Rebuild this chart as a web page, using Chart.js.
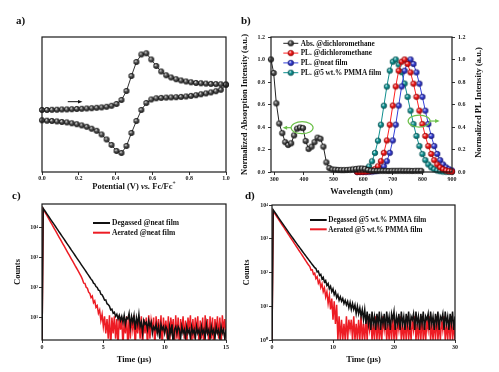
<!DOCTYPE html>
<html><head><meta charset="utf-8">
<script src="https://cdn.jsdelivr.net/npm/chart.js@4.4.1/dist/chart.umd.min.js"></script>
<style>
body{margin:0;background:#fff;}
#wrap{position:relative;width:499px;height:372px;overflow:hidden;background:#fff;}
canvas{position:absolute;}
.pl{position:absolute;font-family:'Liberation Serif',serif;font-weight:bold;font-size:11px;color:#111;line-height:1;}
</style></head><body>
<div id="wrap">
<canvas id="cA" width="240" height="180" style="left:0;top:20px"></canvas>
<canvas id="cB" width="263" height="180" style="left:236px;top:20px"></canvas>
<canvas id="cC" width="240" height="177" style="left:0;top:195px"></canvas>
<canvas id="cD" width="263" height="177" style="left:236px;top:195px"></canvas>
<div class="pl" style="left:16px;top:15px">a)</div>
<div class="pl" style="left:241px;top:15px">b)</div>
<div class="pl" style="left:12px;top:190px">c)</div>
<div class="pl" style="left:245px;top:190px">d)</div>
</div>
<script>
// ---------- Panel a: cyclic voltammogram ----------
const potential = [0.000,0.027,0.054,0.081,0.108,0.135,0.162,0.189,0.216,0.243,0.270,0.297,0.324,0.351,0.378,0.405,0.432,0.459,0.486,0.513,0.540,0.567,0.594,0.621,0.648,0.675,0.702,0.729,0.756,0.783,0.810,0.837,0.864,0.891,0.918,0.945,0.972,1.000];
const forwardCurrent = [6.20,6.20,6.22,6.23,6.25,6.26,6.28,6.30,6.32,6.35,6.38,6.42,6.46,6.52,6.62,6.80,7.20,8.10,9.60,11.00,11.75,11.87,11.25,10.60,10.05,9.67,9.45,9.28,9.15,9.05,8.97,8.90,8.87,8.84,8.81,8.79,8.77,8.75];
const reverseCurrent = [5.17,5.13,5.10,5.06,5.00,4.96,4.87,4.78,4.66,4.52,4.33,4.12,3.75,3.25,2.70,2.10,1.90,2.60,3.90,5.10,6.20,6.90,7.25,7.37,7.41,7.44,7.46,7.48,7.51,7.55,7.61,7.68,7.77,7.86,7.96,8.08,8.22,8.72];
const scanArrow = {from:0.14, to:0.22, level:7.03};

// ---------- Panel b: absorption / PL ----------
const absWavelength = [289,298,307,317,327,337,347,357,367,377,387,397,406,416,426,436,446,456,466,476,486,496,506,516,526,536,546,556,566,576,586,596,606,616,626,636,646,656,666,676,686,696,706,716,726,736,746,756,766,776,786,796];
const absorbance = [1.00,0.88,0.61,0.43,0.345,0.265,0.24,0.255,0.325,0.385,0.395,0.39,0.275,0.205,0.225,0.265,0.305,0.295,0.225,0.085,0.035,0.022,0.02,0.018,0.017,0.017,0.018,0.02,0.023,0.027,0.03,0.031,0.028,0.018,0.012,0.01,0.01,0.011,0.01,0.01,0.009,0.01,0.01,0.01,0.011,0.01,0.01,0.01,0.009,0.01,0.01,0.01];
const plWavelength = [580,590,600,610,620,630,640,650,660,670,680,690,700,710,720,730,740,750,760,770,780,790,800,810,820,830,840,850,860,870,880,890,900];
const plDichloromethane = [0.0,0.001,0.002,0.004,0.007,0.013,0.025,0.05,0.096,0.17,0.28,0.42,0.59,0.76,0.9,0.98,1.0,0.96,0.885,0.785,0.668,0.545,0.426,0.32,0.23,0.16,0.105,0.067,0.041,0.024,0.013,0.007,0.004];
const plNeatFilm = [0,0,0,0.001,0.002,0.004,0.007,0.013,0.025,0.05,0.096,0.17,0.28,0.42,0.59,0.76,0.9,0.98,1.0,0.96,0.885,0.785,0.668,0.545,0.426,0.32,0.23,0.16,0.105,0.067,0.041,0.024,0.013];
const plPmmaFilm = [0.003,0.006,0.011,0.023,0.049,0.095,0.169,0.278,0.42,0.589,0.759,0.901,0.98,1.0,0.955,0.887,0.786,0.668,0.545,0.426,0.32,0.23,0.159,0.105,0.067,0.041,0.024,0.013,0.007,0.004,0.002,0.001,0.0];
const wavelengthTicks = [300,400,500,600,700,800,900];
const legendB = ['Abs. @dichloromethane','PL. @dichloromethane','PL. @neat film','PL. @5 wt.% PMMA film'];
const absMark = {x:394, y:0.394};
const plMark = {x:789, y:0.453};

// ---------- Panel c: decay, neat film ----------
const timeStepC = 0.1;
const degassedC = [1,43000,37000,32500,28200,24500,21400,18600,16200,14100,
12300,10700,9300,8100,7000,6150,5350,4650,4050,3520,
3070,2670,2330,2030,1760,1540,1340,1160,1010,880,
770,670,580,505,440,385,335,290,255,220,
190,172,140,131,108,100,82,79,60,57,
48,38,39,29,27,24,18,19,14,15,
11,13,9,12,8,11,7,12,6,10,
9,14,5,11,7,12,4,10,6,13,
5,7,3,8,6,7,4,8,5,7,
3,5,4,6,3,5,2,6,4,5,
3,5,4,1,5,3,6,1,4,5,
3,5,4,2,5,3,4,2,5,3,
4,2,5,3,4,2,5,3,4,2,
5,3,4,2,6,3,4,2,5,3,
4,2,5,3,4,2,5,3,4,2,
4];
const aeratedC = [1,41000,34800,29500,25000,21100,17900,15100,12800,10800,
9150,7750,6550,5550,4700,3980,3370,2850,2410,2040,
1720,1460,1235,1045,885,750,635,535,455,385,
325,275,230,185,140,138,102,95,70,64,
46,52,31,36,22,25,14,18,8,13,
5,11,3,9,2,12,1,10,3,11,
2,9,1,12,4,10,1,8,3,11,
1,10,2,9,4,12,1,8,3,10,
2,11,1,9,3,10,1,12,2,8,
4,10,1,11,3,9,2,12,1,10,
3,8,2,11,1,10,4,9,1,12,
2,10,1,9,3,11,2,8,1,10,
4,12,1,9,2,10,3,11,1,8,
2,10,1,12,3,9,1,11,2,10,
1,9,3,11,2,10,1,12,4,9,
2];
const countTicksC = [10,100,1000,10000];
const countLabelsC = ['10¹','10²','10³','10⁴'];
const legendC = ['Degassed @neat film','Aerated @neat film'];

// ---------- Panel d: decay, 5 wt.% PMMA film ----------
const timeStepD = 0.2;
const degassedD = [1,7180,6340,5610,4960,4390,3890,3440,3050,2700,
2400,2130,1890,1680,1490,1330,1180,1050,934,832,
741,661,590,526,470,419,375,335,300,268,
240,215,193,173,155,139,131,104,109,82,
88,64,72,52,58,41,47,33,39,27,
33,22,27,18,22,15,19,14,17,12,
15,11,14,9,13,8,12,8,11,6,
10,6,9,5,8,4,8,3,7,3,
6,2,7,3,5,2,6,3,7,2,
5,3,6,2,7,3,5,2,6,4,
7,2,5,3,6,2,7,3,5,2,
6,3,7,2,5,4,6,2,7,3,
5,2,6,3,7,2,5,4,6,2,
7,3,5,2,6,3,7,2,5,4,
6,2,7,3,5,2,6,3,7,2,
5];
const aeratedD = [1,6530,5750,5070,4470,3940,3470,3050,2690,2370,
2090,1840,1620,1430,1260,1110,977,861,759,668,
589,519,457,403,355,313,275,243,214,188,
166,150,118,120,88,95,66,75,48,58,
36,46,27,35,19,27,12,21,8,17,
4,14,3,11,1,5,1,4,1,3,
1,5,1,4,2,4,1,5,1,3,
1,4,1,5,1,3,1,4,1,5,
2,4,1,3,1,5,1,4,1,3,
1,5,2,4,1,3,1,4,1,5,
1,3,1,4,2,5,1,3,1,4,
1,5,1,3,1,4,2,5,1,3,
1,4,1,5,1,3,1,4,2,5,
1,3,1,4,1,5,1,3,1,4,
2,5,1,3,1,4,1,5,1,3,
1];
const countTicksD = [1,10,100,1000,10000];
const countLabelsD = ['10⁰','10¹','10²','10³','10⁴'];
const legendD = ['Degassed @5 wt.% PMMA film','Aerated @5 wt.% PMMA film'];

// ---------- styling helpers ----------
const SERIF = "'Liberation Serif','Times New Roman',serif";
Chart.defaults.font.family = SERIF;
Chart.defaults.font.weight = 'bold';
Chart.defaults.color = '#1a1a1a';
Chart.defaults.animation = false;
Chart.defaults.responsive = false;
Chart.defaults.devicePixelRatio = 1;
Chart.defaults.events = [];
Chart.defaults.plugins.legend.display = false;
Chart.defaults.plugins.tooltip.enabled = false;

function sphere(base, dark, r){
  const s = Math.ceil(r*2)+2, c = document.createElement('canvas');
  c.width = s; c.height = s;
  const g = c.getContext('2d'), m = s/2;
  const grad = g.createRadialGradient(m-r*0.35, m-r*0.4, r*0.1, m, m, r);
  grad.addColorStop(0, '#f4f4f4');
  grad.addColorStop(0.4, base);
  grad.addColorStop(1, dark);
  g.fillStyle = grad; g.beginPath(); g.arc(m, m, r, 0, Math.PI*2); g.fill();
  g.strokeStyle = dark; g.lineWidth = 0.6; g.stroke();
  return c;
}
const tickGrid = () => ({drawOnChartArea:false, drawTicks:true, tickLength:3, color:'#333', lineWidth:1});
const tickFont = {size:6, weight:'bold'};
const pts = (xs, ys) => xs.map((v,i)=>({x:v, y:ys[i]}));
const timeline = (n, step) => Array.from({length:n}, (_,i)=>+(i*step).toFixed(2));

const framePlugin = {id:'frame', afterDatasetsDraw(chart){
  const {ctx, chartArea:a} = chart;
  ctx.save(); ctx.strokeStyle='#1a1a1a'; ctx.lineWidth=1.2;
  ctx.strokeRect(a.left, a.top, a.right-a.left, a.bottom-a.top);
  ctx.restore();
}};

function legendPlugin(cfg){
  return {id:'lg', afterDraw(chart){
    const {ctx, chartArea:a} = chart;
    ctx.save(); ctx.font = cfg.font; ctx.textBaseline='middle'; ctx.textAlign='left';
    chart.data.datasets.forEach((ds,i)=>{
      const y = a.top + cfg.dy + i*cfg.gap, x0 = a.left + cfg.dx;
      ctx.strokeStyle = ds.borderColor; ctx.lineWidth = cfg.lineWidth;
      ctx.beginPath(); ctx.moveTo(x0,y); ctx.lineTo(x0+cfg.lineLen,y); ctx.stroke();
      if (ds.pointStyle && typeof ds.pointStyle === 'object'){
        const im = ds.pointStyle; ctx.drawImage(im, x0+cfg.lineLen/2-im.width/2, y-im.height/2);
      }
      ctx.fillStyle='#111'; ctx.fillText(ds.label, x0+cfg.lineLen+cfg.textGap, y+0.5);
    });
    ctx.restore();
  }};
}

// ---------- Chart a ----------
const grayBall = sphere('#5c5c5c', '#151515', 2.7);
const aExtras = {id:'aExtras', afterDraw(chart){
  const {ctx, scales:{x,y}} = chart;
  const x1 = x.getPixelForValue(scanArrow.from), x2 = x.getPixelForValue(scanArrow.to), yy = y.getPixelForValue(scanArrow.level);
  ctx.save(); ctx.strokeStyle='#111'; ctx.fillStyle='#111'; ctx.lineWidth=1;
  ctx.beginPath(); ctx.moveTo(x1,yy); ctx.lineTo(x2-3,yy); ctx.stroke();
  ctx.beginPath(); ctx.moveTo(x2,yy); ctx.lineTo(x2-4.5,yy-1.8); ctx.lineTo(x2-4.5,yy+1.8); ctx.closePath(); ctx.fill();
  const parts = [['Potential (V) ','bold 8.5px '+SERIF],['vs.','italic bold 8.5px '+SERIF],[' Fc/Fc','bold 8.5px '+SERIF],['+','bold 5.5px '+SERIF]];
  let total = 0; parts.forEach(p=>{ctx.font=p[1]; total += ctx.measureText(p[0]).width;});
  let cx = (chart.chartArea.left+chart.chartArea.right)/2 - total/2; const cy = 167;
  ctx.textBaseline='middle'; ctx.textAlign='left'; ctx.fillStyle='#111';
  parts.forEach((p,i)=>{ctx.font=p[1]; ctx.fillText(p[0], cx, i===3 ? cy-3 : cy); cx += ctx.measureText(p[0]).width;});
  ctx.restore();
}};
new Chart(document.getElementById('cA'), {
  type:'line',
  data:{datasets:[
    {label:'forward', data:pts(potential, forwardCurrent), borderColor:'#333', borderWidth:1, pointStyle:grayBall, pointRadius:3, clip:false},
    {label:'reverse', data:pts(potential, reverseCurrent), borderColor:'#333', borderWidth:1, pointStyle:grayBall, pointRadius:3, clip:false}
  ]},
  options:{
    layout:{padding:{left:42, right:14, top:17, bottom:0}},
    scales:{
      x:{type:'linear', min:0, max:1, ticks:{stepSize:0.2, font:tickFont, padding:0, callback:v=>v.toFixed(1)}, grid:tickGrid(), border:{display:false}, afterFit:s=>{s.height=28;}},
      y:{display:false, min:0, max:13.5}
    }
  },
  plugins:[framePlugin, aExtras]
});

// ---------- Chart b ----------
const redBall = sphere('#ff2424', '#9a0000', 2.8);
const blueBall = sphere('#3f4be0', '#15157a', 2.8);
const tealBall = sphere('#139c9c', '#045252', 2.8);
const grayBall2 = sphere('#5c5c5c', '#151515', 2.8);
const bExtras = {id:'bExtras', afterDraw(chart){
  const {ctx, scales:{x,y,y1}, chartArea:a} = chart;
  ctx.save(); ctx.strokeStyle='#6cc04a'; ctx.fillStyle='#6cc04a'; ctx.lineWidth=1.2;
  const e1x = x.getPixelForValue(absMark.x), e1y = y.getPixelForValue(absMark.y);
  ctx.beginPath(); ctx.ellipse(e1x, e1y, 11, 6, 0, 0, Math.PI*2); ctx.stroke();
  ctx.beginPath(); ctx.moveTo(e1x-11, e1y); ctx.lineTo(e1x-16, e1y); ctx.stroke();
  ctx.beginPath(); ctx.moveTo(e1x-19.5, e1y); ctx.lineTo(e1x-15, e1y-2); ctx.lineTo(e1x-15, e1y+2); ctx.closePath(); ctx.fill();
  const e2x = x.getPixelForValue(plMark.x), e2y = y1.getPixelForValue(plMark.y);
  ctx.beginPath(); ctx.ellipse(e2x, e2y, 11, 6, 0, 0, Math.PI*2); ctx.stroke();
  ctx.beginPath(); ctx.moveTo(e2x+11, e2y); ctx.lineTo(e2x+17, e2y); ctx.stroke();
  ctx.beginPath(); ctx.moveTo(e2x+20.5, e2y); ctx.lineTo(e2x+16, e2y-2); ctx.lineTo(e2x+16, e2y+2); ctx.closePath(); ctx.fill();
  ctx.fillStyle='#111'; ctx.font='bold 8.5px '+SERIF; ctx.textAlign='center'; ctx.textBaseline='middle';
  ctx.translate(chart.width-20.5, (a.top+a.bottom)/2-2); ctx.rotate(-Math.PI/2);
  ctx.fillText('Normalized PL Intensity (a.u.)', 0, 0);
  ctx.restore();
}};
new Chart(document.getElementById('cB'), {
  type:'line',
  data:{datasets:[
    {label:legendB[0], data:pts(absWavelength, absorbance), yAxisID:'y', borderColor:'#222', borderWidth:1, pointStyle:grayBall2, pointRadius:3, clip:false},
    {label:legendB[1], data:pts(plWavelength, plDichloromethane), yAxisID:'y1', borderColor:'#ff2020', borderWidth:1, pointStyle:redBall, pointRadius:3, clip:false},
    {label:legendB[2], data:pts(plWavelength, plNeatFilm), yAxisID:'y1', borderColor:'#3340d8', borderWidth:1, pointStyle:blueBall, pointRadius:3, clip:false},
    {label:legendB[3], data:pts(plWavelength, plPmmaFilm), yAxisID:'y1', borderColor:'#0e8e8e', borderWidth:1, pointStyle:tealBall, pointRadius:3, clip:false}
  ]},
  options:{
    layout:{padding:{left:0, right:0, top:17, bottom:0}},
    scales:{
      x:{type:'linear', min:289, max:900, afterBuildTicks:s=>{s.ticks = wavelengthTicks.map(v=>({value:v}));},
         ticks:{font:tickFont, padding:1}, grid:tickGrid(), border:{display:false},
         title:{display:true, text:'Wavelength (nm)', font:{size:8.5, weight:'bold'}, padding:{top:0, bottom:3.2}, color:'#111'},
         afterFit:s=>{s.height=28;}},
      y:{position:'left', min:0, max:1.2, ticks:{stepSize:0.2, font:tickFont, padding:3, callback:v=>v.toFixed(1)}, grid:tickGrid(), border:{display:false},
         title:{display:true, text:'Normalized Absorption Intensity (a.u.)', font:{size:8.5, weight:'bold'}, padding:{top:3.9, bottom:0}, color:'#111'},
         afterFit:s=>{s.width=35;}},
      y1:{position:'right', min:0, max:1.2, ticks:{stepSize:0.2, font:tickFont, padding:3, callback:v=>v.toFixed(1)}, grid:tickGrid(), border:{display:false},
         afterFit:s=>{s.width=47;}}
    }
  },
  plugins:[framePlugin, bExtras, legendPlugin({dx:12.3, dy:6.3, gap:9.8, lineLen:15, textGap:2.4, font:'bold 7.2px '+SERIF, lineWidth:1})]
});

// ---------- Chart c ----------
const timeC = timeline(degassedC.length, timeStepC);
new Chart(document.getElementById('cC'), {
  type:'line',
  data:{datasets:[
    {label:legendC[0], data:pts(timeC, degassedC), borderColor:'#111', borderWidth:1.5, pointRadius:0},
    {label:legendC[1], data:pts(timeC, aeratedC), borderColor:'#ed1c24', borderWidth:1.5, pointRadius:0}
  ]},
  options:{
    layout:{padding:{left:0, right:14, top:9, bottom:0}},
    scales:{
      x:{type:'linear', min:0, max:15, ticks:{stepSize:5, font:tickFont, padding:1}, grid:tickGrid(), border:{display:false},
         title:{display:true, text:'Time (µs)', font:{size:8.5, weight:'bold'}, padding:{top:0, bottom:6.9}, color:'#111'},
         afterFit:s=>{s.height=32;}},
      y:{type:'logarithmic', min:1.8, max:60000, afterBuildTicks:s=>{s.ticks = countTicksC.map(v=>({value:v}));},
         ticks:{font:tickFont, padding:1, callback:(v,i)=>countLabelsC[i]}, grid:tickGrid(), border:{display:false},
         title:{display:true, text:'Counts', font:{size:8.5, weight:'bold'}, padding:{top:12.9, bottom:0}, color:'#111'},
         afterFit:s=>{s.width=42;}}
    }
  },
  plugins:[framePlugin, legendPlugin({dx:51, dy:19, gap:9.7, lineLen:17, textGap:2, font:'bold 7.5px '+SERIF, lineWidth:2})]
});

// ---------- Chart d ----------
const timeD = timeline(degassedD.length, timeStepD);
new Chart(document.getElementById('cD'), {
  type:'line',
  data:{datasets:[
    {label:legendD[0], data:pts(timeD, degassedD), borderColor:'#111', borderWidth:1.5, pointRadius:0},
    {label:legendD[1], data:pts(timeD, aeratedD), borderColor:'#ed1c24', borderWidth:1.5, pointRadius:0}
  ]},
  options:{
    layout:{padding:{left:0, right:44, top:10, bottom:0}},
    scales:{
      x:{type:'linear', min:0, max:30, ticks:{stepSize:10, font:tickFont, padding:1}, grid:tickGrid(), border:{display:false},
         title:{display:true, text:'Time (µs)', font:{size:8.5, weight:'bold'}, padding:{top:0, bottom:6.9}, color:'#111'},
         afterFit:s=>{s.height=32;}},
      y:{type:'logarithmic', min:1, max:10000, afterBuildTicks:s=>{s.ticks = countTicksD.map(v=>({value:v}));},
         ticks:{font:tickFont, padding:1, callback:(v,i)=>countLabelsD[i]}, grid:tickGrid(), border:{display:false},
         title:{display:true, text:'Counts', font:{size:8.5, weight:'bold'}, padding:{top:5.9, bottom:0}, color:'#111'},
         afterFit:s=>{s.width=36;}}
    }
  },
  plugins:[framePlugin, legendPlugin({dx:38, dy:15, gap:9.3, lineLen:16.7, textGap:1.6, font:'bold 7.2px '+SERIF, lineWidth:2})]
});
</script>
</body></html>
